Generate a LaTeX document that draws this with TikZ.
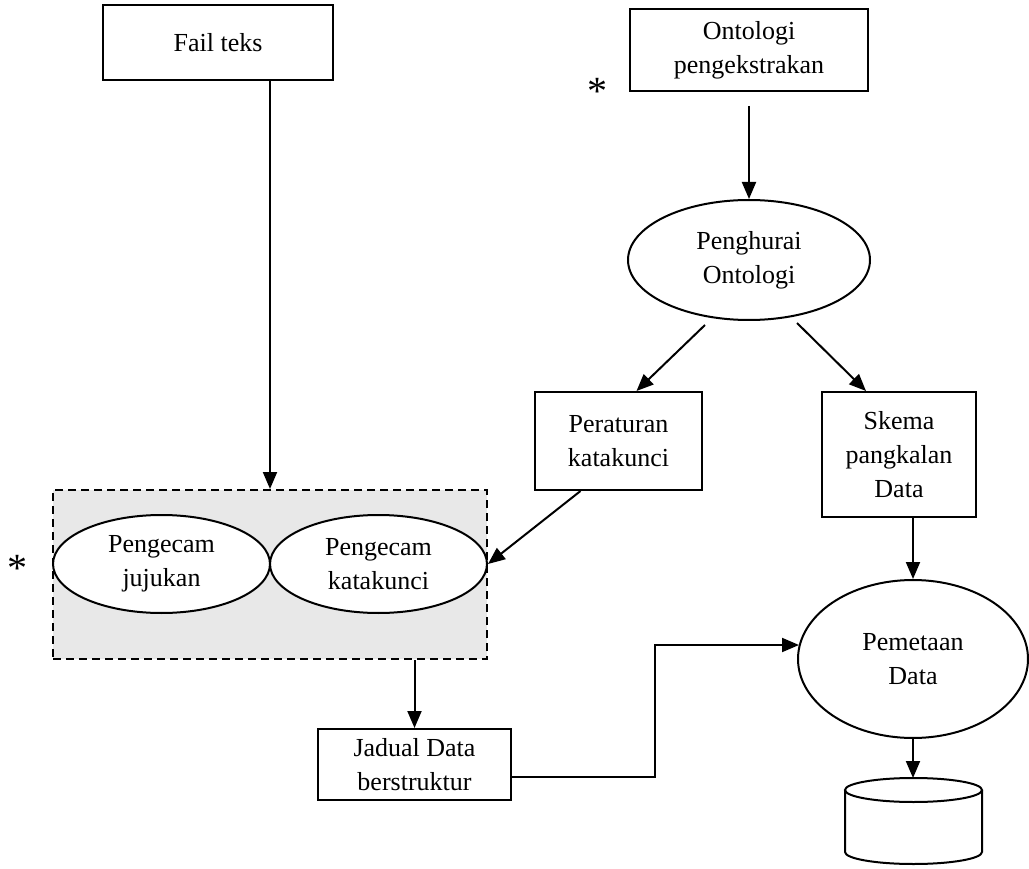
\documentclass[tikz,border=0pt]{standalone}
\usepackage{fontspec}
\setmainfont{Liberation Serif}
\usetikzlibrary{shapes.geometric,arrows.meta,calc}
\definecolor{grpgray}{HTML}{E8E8E8}
\begin{document}
\begin{tikzpicture}[x=1pt,y=-1pt,
  every node/.style={font=\fontsize{26}{34}\selectfont, align=center, inner sep=0pt},
  box/.style={draw, line width=2pt, rectangle, fill=white},
  oval/.style={draw, line width=2pt, ellipse, fill=white},
  arr/.style={line width=2pt, -{Triangle[length=17pt,width=14pt]}},
  grpbox/.style={draw, dash pattern=on 8pt off 5pt, line width=2pt, fill=grpgray},
  star/.style={font=\fontsize{40}{40}\selectfont}]
\useasboundingbox (0,0) rectangle (1029,869);

% input boxes
\node[box, minimum width=230, minimum height=75] (fail) at (218,42.5) {Fail teks};
\node[box, minimum width=238, minimum height=82] (onto) at (749,50) {Ontologi\\pengekstrakan};
\node[star] (s1) at (597,91) {*};

% ontology parser and its outputs
\node[oval, minimum width=242, minimum height=120] (ph) at (749,260) {Penghurai\\Ontologi};
\node[box, minimum width=167, minimum height=98] (pk) at (618.5,441) {Peraturan\\katakunci};
\node[box, minimum width=154, minimum height=125] (sk) at (899,454.5) {Skema\\pangkalan\\Data};

% recogniser group
\node[grpbox, minimum width=434, minimum height=169] (grp) at (270,574.5) {};
\node[oval, minimum width=217, minimum height=98] (pj) at (161.5,564) {Pengecam\\jujukan};
\node[oval, minimum width=217, minimum height=98] (kk) at (378.5,564) {Pengecam\\katakunci};
\node[star] (s2) at (18,568) {*};

% structured table and mapping
\node[box, minimum width=193, minimum height=71] (jd) at (414.5,764.5) {Jadual Data\\berstruktur};
\node[oval, minimum width=230, minimum height=158] (pm) at (913,659) {Pemetaan\\Data};

% database cylinder
\coordinate (dbtop) at (913,778);
\draw[line width=2pt, fill=white] (845,790) -- (845,852)
  arc[start angle=180, end angle=0, x radius=68.5, y radius=12] -- (982,790);
\draw[line width=2pt] (913.5,790) ellipse [x radius=68.5, y radius=12];

% connectors
\draw[arr] (fail.south -| grp.north) -- (grp.north);
\draw[arr] ($(onto.south)+(0,14)$) -- (ph.north);
\draw[arr] ($(ph.center)+(-44,65)$) -- ($(pk.north)+(18,0)$);
\draw[arr] ($(ph.center)+(48,63)$) -- ($(sk.north)+(-33,0)$);
\draw[arr] ($(pk.south)+(-38,0)$) -- (kk.east);
\draw[arr] (sk.south -| pm.north) -- (pm.north);
\draw[arr] (pm.south) -- (dbtop);
\draw[arr] (grp.south -| jd.north) -- (jd.north);
\draw[arr] ($(jd.east)+(0,12.5)$) -- ++(143,0) |- ($(pm.west)+(2,-14)$);
\end{tikzpicture}
\end{document}
